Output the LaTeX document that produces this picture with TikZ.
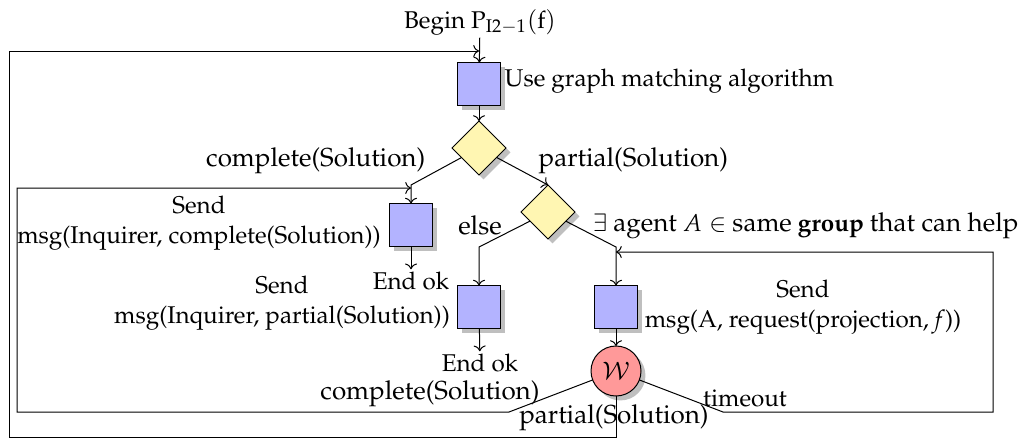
\documentclass[tikz,border=0pt]{standalone}
\usepackage[T1]{fontenc}
\usepackage{mathpazo}
\usetikzlibrary{shapes.geometric,shadows,arrows.meta}
\definecolor{boxblue}{RGB}{179,179,255}
\definecolor{decyellow}{RGB}{255,246,178}
\definecolor{waitred}{RGB}{255,153,153}
\newcommand{\eu}[1]{\textup{\fontsize{11.7pt}{14pt}\selectfont #1}}
\begin{document}
\begin{tikzpicture}[x=0.45pt,y=-0.45pt,
  font=\fontsize{10.9pt}{13.2pt}\selectfont,
  shade/.style={drop shadow={shadow xshift=2pt,shadow yshift=-2pt,fill=black!25,opacity=1}},
  box/.style={draw, fill=boxblue, minimum width=19.35pt, minimum height=19.35pt, inner sep=0pt, outer sep=0pt, shade},
  dec/.style={diamond, aspect=1, draw, fill=decyellow, minimum width=24.3pt, minimum height=24.3pt, inner sep=0pt, outer sep=0pt, shade},
  waitn/.style={circle, draw, fill=waitred, minimum size=22.5pt, inner sep=0pt, outer sep=0pt, shade},
  flow/.style={->},
  plain/.style={inner sep=1pt},
  line width=0.45pt
]
\useasboundingbox (0,0) rectangle (1031,440);
% main nodes
\node[plain] (begin) at (480,22) {Begin $\mathrm{P}_{\mathrm{I2}-1}(\mathrm{f})$};
\node[box] (b1) at (479,84) {};
\node[dec] (d1) at (479,148) {};
\node[box] (b2) at (411,225) {};
\node[dec] (d2) at (548,212) {};
\node[box] (b3) at (479,307) {};
\node[box] (b4) at (616,307) {};
\node[waitn] (w) at (616,371) {$\mathcal{W}$};
\node[plain] (e1) at (411,281) {End ok};
\node[plain] (e2) at (480,363) {End ok};
% texts beside boxes
\node[plain, anchor=west] (t1) at (502,81) {Use graph matching algorithm};
\node[plain, align=center] (s2) at (199,223) {Send\\msg(Inquirer, complete(Solution))};
\node[plain, align=center] (s3) at (282,303) {Send\\msg(Inquirer, partial(Solution))};
\node[plain, align=center] (s4) at (803,307) {Send\\msg(A, request(projection, \textit{f}))};
% edge labels
\node[plain, anchor=east] (l1) at (428,161) {\eu{complete(Solution)}};
\node[plain, anchor=west] (l2) at (536,161) {\eu{partial(Solution)}};
\node[plain] (l3) at (480,225) {\eu{else}};
\node[plain, anchor=west] (l4) at (590,226) {$\exists$ \eu{agent} $A\in$ \eu{same} \textbf{group} \eu{that can help}};
\node[plain] (l5) at (430,394) {\eu{complete(Solution)}};
\node[plain] (l6) at (614,418) {\eu{partial(Solution)}};
\node[plain] (l7) at (745,398) {timeout};
% coordinates
\coordinate (top) at (479,51);
\coordinate (k1) at (411,185);
\coordinate (t1a) at (411,188);
\coordinate (k2) at (479,247);
\coordinate (k3) at (616,247);
\coordinate (t3) at (616,252);
\coordinate (lw) at (509,412);
\coordinate (lc) at (17,412);
\coordinate (rw) at (723,412);
\coordinate (rc) at (993,412);
\coordinate (ob1) at (616,437);
\coordinate (ob2) at (9,437);
% connectors
\draw[flow] (begin) -- (b1);
\draw[flow] (b1) -- (d1);
\draw[flow] (d1) -- (k1) -- (b2);
\draw[flow] (d1) -- (d2.north);
\draw[flow] (d2) -- (k2) -- (b3);
\draw[flow] (d2) -- (k3) -- (b4);
\draw[flow] (b2) -- (e1);
\draw[flow] (b3) -- (e2);
\draw[flow] (b4) -- (w);
\draw[flow] (w) -- (lw) -- (lc) |- (t1a);
\draw[flow] (w) -- (rw) -- (rc) |- (t3);
\draw[flow] (w) -- (ob1) -- (ob2) |- (top);
\end{tikzpicture}
\end{document}
